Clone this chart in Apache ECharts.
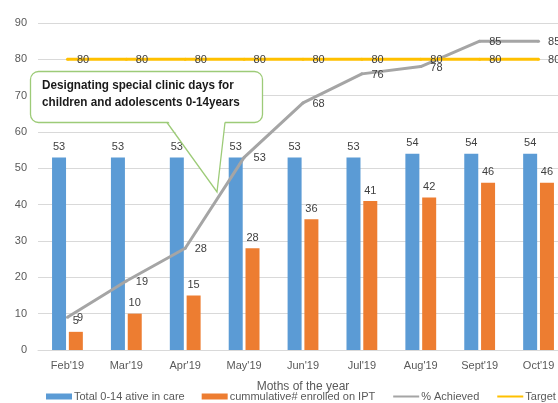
<!DOCTYPE html>
<html>
<head>
<meta charset="utf-8">
<script src="https://cdn.jsdelivr.net/npm/echarts@6/dist/echarts.min.js"></script>
<style>
  html, body { margin: 0; padding: 0; overflow: hidden; background: #fff; }
  #main { width: 570px; height: 403px; }
</style>
</head>
<body>
<div id="main"></div>
<script>
// months and series
const months = ["Feb'19", "Mar'19", "Apr'19", "May'19", "Jun'19", "Jul'19", "Aug'19", "Sept'19", "Oct'19"];
const totalInCare = [53, 53, 53, 53, 53, 53, 54, 54, 54];
const enrolledIPT = [5, 10, 15, 28, 36, 41, 42, 46, 46];
const achieved = [9, 19, 28, 53, 68, 76, 78, 85, 85];
const target = [80, 80, 80, 80, 80, 80, 80, 80, 80];

const font = "'Liberation Sans', Arial, sans-serif";
const labelStyle = { show: true, color: '#404040', fontSize: 11, fontFamily: font };

const chart = echarts.init(document.getElementById('main'));
chart.setOption({
    animation: false,
    grid: { left: 38, right: 2, top: 23, bottom: 53 },
    legend: {
        left: 46,
        top: 391,
        width: 600,
        padding: 0,
        itemWidth: 26,
        itemHeight: 6,
        itemGap: 17,
        textStyle: { color: '#595959', fontSize: 11, fontFamily: font, padding: [0, 0, 0, -3] },
        data: [
            { name: 'Total 0-14 ative in care', icon: 'rect' },
            { name: 'cummulative# enrolled on IPT', icon: 'rect' },
            { name: '% Achieved', itemStyle: { opacity: 0 } },
            { name: 'Target %', itemStyle: { opacity: 0 } }
        ]
    },
    xAxis: {
        type: 'category',
        data: months,
        name: 'Moths of the year',
        nameLocation: 'middle',
        nameGap: 31,
        nameTextStyle: { color: '#595959', fontSize: 12, fontFamily: font },
        axisLine: { lineStyle: { color: '#D9D9D9' } },
        axisTick: { show: false },
        axisLabel: { color: '#595959', fontSize: 11, fontFamily: font, margin: 10 }
    },
    yAxis: {
        type: 'value',
        min: 0,
        max: 90,
        interval: 10,
        axisLine: { show: false },
        axisTick: { show: false },
        axisLabel: { color: '#595959', fontSize: 11, fontFamily: font, margin: 11 },
        splitLine: { lineStyle: { color: '#D9D9D9' } }
    },
    series: [
        {
            name: 'Total 0-14 ative in care',
            type: 'bar',
            data: totalInCare,
            barWidth: 14,
            barGap: '20%',
            itemStyle: { color: '#5B9BD5' },
            label: Object.assign({ position: 'top', distance: 5 }, labelStyle)
        },
        {
            name: 'cummulative# enrolled on IPT',
            type: 'bar',
            data: enrolledIPT,
            barWidth: 14,
            itemStyle: { color: '#ED7D31' },
            label: Object.assign({ position: 'top', distance: 5 }, labelStyle)
        },
        {
            name: '% Achieved',
            type: 'line',
            data: achieved,
            symbol: 'circle',
            symbolSize: 3,
            showSymbol: true,
            lineStyle: { color: '#A5A5A5', width: 3 },
            itemStyle: { color: '#A5A5A5' },
            label: Object.assign({ position: 'right', distance: 8, offset: [0, 1] }, labelStyle)
        },
        {
            name: 'Target %',
            type: 'line',
            data: target,
            symbol: 'circle',
            symbolSize: 3,
            showSymbol: true,
            lineStyle: { color: '#FFC000', width: 3 },
            itemStyle: { color: '#FFC000' },
            label: Object.assign({ position: 'right', distance: 8, offset: [0, 1] }, labelStyle)
        }
    ],
    graphic: [
        {
            type: 'rect',
            z: 100,
            shape: { x: 30.5, y: 71.5, width: 232, height: 51, r: 8 },
            style: { fill: '#fff', stroke: '#9DCB78', lineWidth: 1.3 }
        },
        {
            type: 'polygon',
            z: 101,
            shape: { points: [[168, 121], [217, 192], [225, 121]] },
            style: { fill: '#fff' }
        },
        {
            type: 'polyline',
            z: 102,
            shape: { points: [[167, 122.5], [217, 192], [225, 122.5]] },
            style: { stroke: '#9DCB78', lineWidth: 1.3, fill: null }
        },
        {
            type: 'text',
            z: 103,
            x: 42,
            y: 77,
            scaleX: 0.9,
            style: {
                text: 'Designating special clinic days for\nchildren and adolescents 0-14years',
                font: "bold 13px 'Liberation Sans', sans-serif",
                lineHeight: 17,
                fill: '#1a1a1a'
            }
        }
    ]
});
</script>
</body>
</html>
